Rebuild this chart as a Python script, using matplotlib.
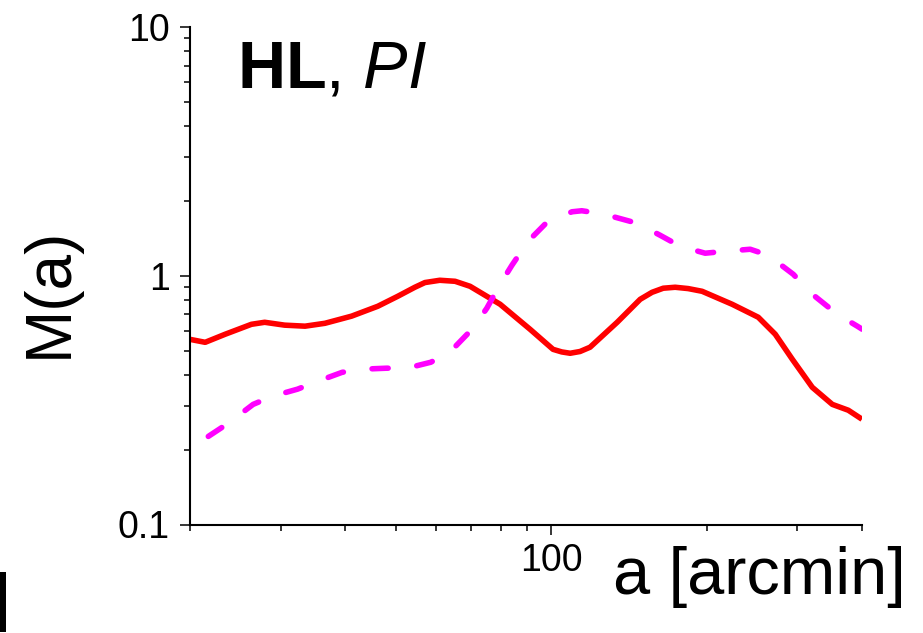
import matplotlib
matplotlib.use('Agg')
import matplotlib.pyplot as plt
from matplotlib.ticker import LogLocator, NullFormatter
from matplotlib.patches import Rectangle

plt.rcParams['font.family'] = ['Liberation Sans', 'DejaVu Sans']
plt.rcParams['mathtext.fontset'] = 'custom'
plt.rcParams['mathtext.rm'] = 'Liberation Sans'
plt.rcParams['mathtext.bf'] = 'Liberation Sans:bold'
plt.rcParams['mathtext.it'] = 'Liberation Sans:italic'

# HL, solid red
a_hl = [20.0, 21.4, 23.4, 26.3, 27.9, 30.5, 33.4, 36.5, 41.1, 46.2, 50.5, 54.5,
        57.0, 60.9, 65.2, 69.7, 79.7, 91.1, 100.9, 104.9, 108.9, 113.8, 119.0,
        134.3, 148.8, 156.9, 164.9, 173.9, 184.3, 196.1, 224.2, 251.9, 271.7,
        293.1, 320.5, 350.4, 376.3, 400.0]
m_hl = [0.555, 0.540, 0.582, 0.638, 0.650, 0.633, 0.627, 0.644, 0.688, 0.754, 0.827, 0.899,
        0.939, 0.959, 0.950, 0.907, 0.768, 0.609, 0.506, 0.494, 0.488, 0.496, 0.516,
        0.650, 0.804, 0.858, 0.891, 0.899, 0.888, 0.866, 0.768, 0.681, 0.582,
        0.462, 0.356, 0.304, 0.288, 0.265]

# PI, dashed magenta
a_pi = [21.7, 23.7, 26.5, 28.9, 32.3, 35.4, 39.4, 43.0, 48.1, 52.6, 58.5, 63.7,
        70.6, 75.1, 79.7, 84.0, 90.3, 98.2, 109.8, 114.7, 120.1, 133.1, 146.8, 162.6,
        177.8, 198.8, 217.4, 243.0, 263.3, 294.4, 320.5, 358.3, 391.7, 400.0]
m_pi = [0.226, 0.255, 0.304, 0.328, 0.350, 0.377, 0.409, 0.421, 0.425, 0.425, 0.449, 0.493,
        0.615, 0.740, 0.924, 1.102, 1.376, 1.641, 1.808, 1.825, 1.800, 1.719, 1.626, 1.455,
        1.314, 1.232, 1.254, 1.278, 1.209, 1.014, 0.843, 0.700, 0.627, 0.61]

W, H = 923, 633
fig = plt.figure(figsize=(W / 100, H / 100), dpi=100)
ax = fig.add_axes([190 / W, 1 - 524.5 / H, 672 / W, 497.5 / H])

ax.plot(a_hl, m_hl, color='#ff0000', lw=4.0, solid_capstyle='butt', solid_joinstyle='round')
ax.plot(a_pi, m_pi, color='#ff00ff', lw=4.0, dashes=(2.9, 5.2), dash_capstyle='round',
        dash_joinstyle='round')

ax.set_xscale('log')
ax.set_yscale('log')
ax.set_xlim(20, 400)
ax.set_ylim(0.1, 10)

ax.set_xticks([100])
ax.set_xticklabels(['100'])
ax.set_yticks([0.1, 1, 10])
ax.set_yticklabels(['0.1', '1', '10'])
ax.xaxis.set_minor_locator(LogLocator(base=10, subs=range(2, 10)))
ax.yaxis.set_minor_locator(LogLocator(base=10, subs=range(2, 10)))
ax.xaxis.set_minor_formatter(NullFormatter())
ax.yaxis.set_minor_formatter(NullFormatter())

ax.tick_params(which='major', length=7.5, width=1.1, labelsize=27, pad=6)
ax.tick_params(which='minor', length=4.3, width=1.1)
ax.tick_params(axis='y', which='major', pad=7)

for s in ['top', 'right']:
    ax.spines[s].set_visible(False)
for s in ['left', 'bottom']:
    ax.spines[s].set_linewidth(1.5)

fig.text(237 / W, 1 - 88 / H, r'$\mathbf{HL}$, $\mathit{PI}$', fontsize=48,
         ha='left', va='baseline')
fig.text(906 / W, 1 - 594 / H, 'a [arcmin]', fontsize=48, ha='right', va='baseline')
fig.text(50 / W, 1 - 292 / H, 'M(a)', fontsize=46, rotation=90, ha='center', va='center')

fig.add_artist(Rectangle((0, 1 - 632 / H), 6 / W, 60 / H, transform=fig.transFigure,
                         color='black', lw=0))

fig.savefig('out.png', dpi=100)
